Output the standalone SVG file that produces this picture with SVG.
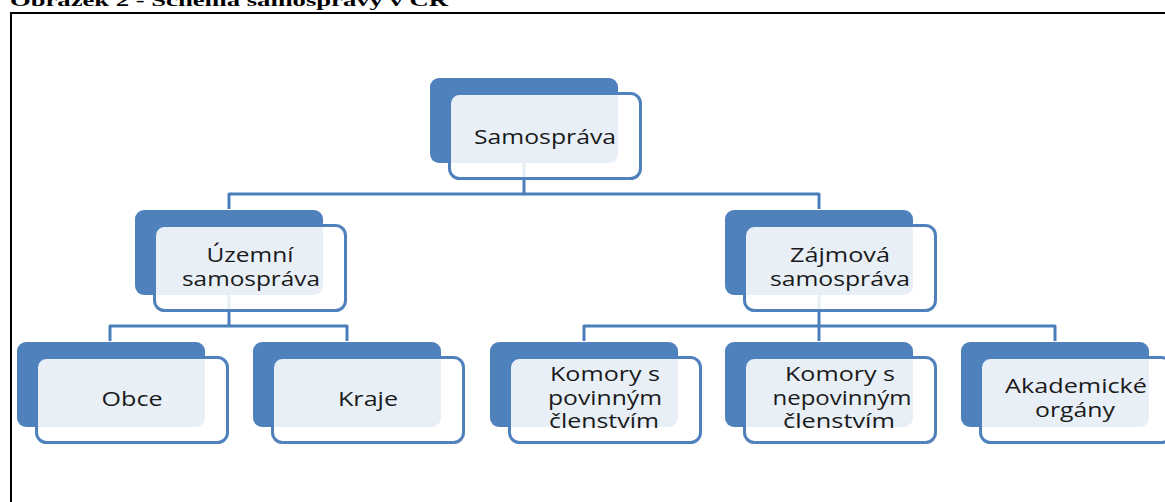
<svg xmlns="http://www.w3.org/2000/svg" width="1165" height="502" viewBox="0 0 1165 502">
<style>
.bg{fill:#ffffff}
.frame{fill:none;stroke:#000;stroke-width:2}
.title{font-family:"Liberation Serif","Times New Roman",serif;font-weight:bold;font-size:17px;fill:#000}
.back{fill:#4F81BD}
.front{fill:#ffffff;fill-opacity:0.87;stroke:#4F81BD;stroke-width:3}
.lbl{font-family:"Open Sans","Liberation Sans",sans-serif;font-size:20px;fill:#1a1a1a;text-anchor:middle}
.conn{fill:none;stroke:#4A7EBB;stroke-width:3;stroke-linejoin:round}
</style>
<rect class="bg" x="0" y="0" width="1165" height="502"/>
<text class="title" x="10" y="6" textLength="438" lengthAdjust="spacingAndGlyphs">Obrázek 2 - Schéma samosprávy v ČR</text>
<rect class="frame" x="11" y="13" width="1200" height="600"/>
<g id="connectors">
<path class="conn" d="M524,163 V194"/>
<path class="conn" d="M229,209 V194 H819 V209"/>
<path class="conn" d="M229,295 V326"/>
<path class="conn" d="M110,341 V326 H347 V341"/>
<path class="conn" d="M819,295 V326"/>
<path class="conn" d="M584,341 V326 H1055 V341"/>
<path class="conn" d="M819,326 V341"/>
</g>
<g id="node-samosprava">
<rect class="back" x="430" y="78" width="188" height="85" rx="9"/>
<rect class="front" x="449.5" y="93.5" width="191" height="85" rx="10"/>
<text class="lbl" x="545" y="144" textLength="142" lengthAdjust="spacingAndGlyphs">Samospráva</text>
</g>
<g id="node-uzemni">
<rect class="back" x="135" y="210" width="188" height="85" rx="9"/>
<rect class="front" x="154.5" y="225.5" width="191" height="85" rx="10"/>
<text class="lbl" x="250" y="262" textLength="87" lengthAdjust="spacingAndGlyphs">Územní</text>
<text class="lbl" x="251" y="286" textLength="138" lengthAdjust="spacingAndGlyphs">samospráva</text>
</g>
<g id="node-zajmova">
<rect class="back" x="725" y="210" width="188" height="85" rx="9"/>
<rect class="front" x="744.5" y="225.5" width="191" height="85" rx="10"/>
<text class="lbl" x="840" y="262" textLength="100" lengthAdjust="spacingAndGlyphs">Zájmová</text>
<text class="lbl" x="840" y="286" textLength="140" lengthAdjust="spacingAndGlyphs">samospráva</text>
</g>
<g id="node-obce">
<rect class="back" x="17" y="342" width="188" height="85" rx="9"/>
<rect class="front" x="36.5" y="357.5" width="191" height="85" rx="10"/>
<text class="lbl" x="132" y="406" textLength="61" lengthAdjust="spacingAndGlyphs">Obce</text>
</g>
<g id="node-kraje">
<rect class="back" x="253" y="342" width="188" height="85" rx="9"/>
<rect class="front" x="272.5" y="357.5" width="191" height="85" rx="10"/>
<text class="lbl" x="368" y="406" textLength="60" lengthAdjust="spacingAndGlyphs">Kraje</text>
</g>
<g id="node-komory-povinne">
<rect class="back" x="490" y="342" width="188" height="85" rx="9"/>
<rect class="front" x="509.5" y="357.5" width="191" height="85" rx="10"/>
<text class="lbl" x="605" y="381" textLength="110" lengthAdjust="spacingAndGlyphs">Komory s</text>
<text class="lbl" x="605" y="405" textLength="114" lengthAdjust="spacingAndGlyphs">povinným</text>
<text class="lbl" x="604" y="428" textLength="110" lengthAdjust="spacingAndGlyphs">členstvím</text>
</g>
<g id="node-komory-nepovinne">
<rect class="back" x="725" y="342" width="188" height="85" rx="9"/>
<rect class="front" x="744.5" y="357.5" width="191" height="85" rx="10"/>
<text class="lbl" x="840" y="381" textLength="110" lengthAdjust="spacingAndGlyphs">Komory s</text>
<text class="lbl" x="842" y="405" textLength="139" lengthAdjust="spacingAndGlyphs">nepovinným</text>
<text class="lbl" x="839" y="428" textLength="112" lengthAdjust="spacingAndGlyphs">členstvím</text>
</g>
<g id="node-akademicke">
<rect class="back" x="961" y="342" width="188" height="85" rx="9"/>
<rect class="front" x="980.5" y="357.5" width="191" height="85" rx="10"/>
<text class="lbl" x="1076" y="393" textLength="142" lengthAdjust="spacingAndGlyphs">Akademické</text>
<text class="lbl" x="1075" y="417" textLength="80" lengthAdjust="spacingAndGlyphs">orgány</text>
</g>
</svg>
